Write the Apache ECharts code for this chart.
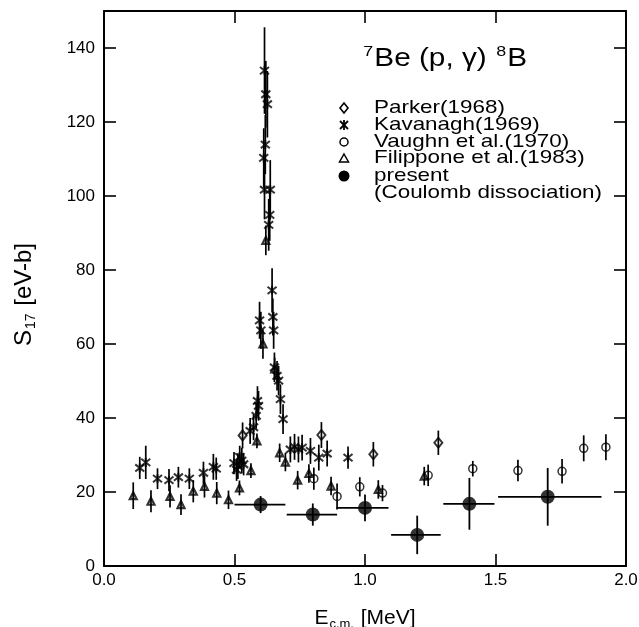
<!DOCTYPE html>
<html><head><meta charset="utf-8">
<script src="https://cdn.jsdelivr.net/npm/echarts@6/dist/echarts.min.js"></script>
<style>html,body{margin:0;padding:0;background:#fff}#c{width:639px;height:627px}</style>
</head><body><div id="c"></div>
<script>
// ---- tick labels ----
const xTicks = [0, 0.5, 1.0, 1.5, 2.0];
const xTickLabels = ['0.0', '0.5', '1.0', '1.5', '2.0'];
const yTicks = [0, 20, 40, 60, 80, 100, 120, 140];
const yTickLabels = ['0', '20', '40', '60', '80', '100', '120', '140'];

// ---- Parker (1968) ----
const parE = [0.531, 0.833, 1.032, 1.281];
const parS = [35.3, 35.4, 30.2, 33.3];
const parErr = [3.5, 3.5, 3.3, 3.3];

// ---- Kavanagh (1969) ----
const kavE = [0.137,0.160,0.205,0.249,0.285,0.327,0.381,0.419,0.430,0.498,0.508,0.513,0.520,0.528,0.535,0.560,0.573,0.583,0.588,0.592,0.596,0.601,0.612,0.615,0.615,0.618,0.620,0.626,0.631,0.635,0.637,0.644,0.647,0.650,0.653,0.663,0.669,0.676,0.686,0.714,0.730,0.745,0.759,0.791,0.823,0.855,0.935];
const kavS = [26.5,28.0,23.6,23.2,24.0,23.6,25.2,26.8,26.3,27.8,26.0,27.0,29.5,28.5,27.5,36.5,37.5,40.6,44.6,43.3,66.4,63.7,110.3,101.7,133.9,113.9,127.5,124.8,92.2,94.9,101.7,74.5,67.3,63.7,53.7,51.4,50.1,45.1,39.7,31.5,32.2,31.5,32.0,31.1,29.3,30.4,29.3];
const kavErr = [3.0,4.5,2.8,3.0,2.8,2.8,3.0,3.5,3.0,3.0,3.0,3.5,3.0,3.5,3.0,3.5,3.5,3.5,4.0,4.0,5.0,5.0,8.0,8.0,11.7,8.0,9.0,9.0,7.0,7.0,8.0,6.0,5.0,5.0,4.0,4.0,4.0,4.0,4.0,3.5,3.5,3.5,3.5,3.5,3.5,3.5,3.0];

// ---- Vaughn et al. (1970) ----
const vauE = [0.804,0.893,0.980,1.067,1.242,1.413,1.586,1.755,1.838,1.923];
const vauS = [23.6,18.8,21.4,19.7,24.5,26.3,25.8,25.6,31.8,32.1];
const vauErr = [3.0,3.5,2.6,2.2,2.9,2.1,2.9,3.3,3.5,3.5];

// ---- Filippone et al. (1983) ----
const filE = [0.112,0.180,0.253,0.295,0.342,0.385,0.432,0.477,0.519,0.563,0.586,0.609,0.620,0.654,0.673,0.695,0.742,0.785,0.870,1.051,1.227];
const filS = [19.0,17.5,18.8,16.6,20.2,21.5,19.7,17.9,21.1,25.8,33.8,60.0,88.0,53.3,30.6,28.1,23.2,25.0,21.6,20.7,24.3];
const filErr = [3.6,3.0,3.0,2.8,3.0,3.0,3.0,2.5,2.0,2.0,2.0,4.0,4.0,3.0,2.5,2.5,2.5,2.5,2.5,2.5,2.5];

// ---- present (Coulomb dissociation) ----
const preE = [0.60, 0.80, 1.00, 1.20, 1.40, 1.70];
const preS = [16.6, 13.9, 15.7, 8.4, 16.8, 18.7];
const preErr = [2.3, 3.0, 3.6, 5.2, 7.0, 7.8];
const preElow = [0.50, 0.70, 0.89, 1.10, 1.30, 1.51];
const preEhigh = [0.695, 0.893, 1.09, 1.29, 1.496, 1.906];

const FONT = 'Liberation Sans, Arial, Helvetica, sans-serif';
const asteriskPath = 'path://M0,-1L0,1M-0.8,-0.8L0.8,0.8M-0.8,0.8L0.8,-0.8';

function fmt(ticks, labels) {
  return function (v) {
    const i = ticks.findIndex(t => Math.abs(t - v) < 1e-9);
    return i >= 0 ? labels[i] : '';
  };
}

function errSeries(name, E, S, Err) {
  return {
    type: 'custom', name: name + ' err', silent: true, z: 2,
    data: E.map((e, i) => [e, S[i], Err[i]]),
    encode: { x: 0, y: 1 },
    renderItem: function (params, api) {
      const x = api.value(0), y = api.value(1), d = api.value(2);
      const p1 = api.coord([x, y - d]), p2 = api.coord([x, y + d]);
      return { type: 'line', shape: { x1: p1[0], y1: p1[1], x2: p2[0], y2: p2[1] },
        style: { stroke: '#000', lineWidth: 1.7 } };
    }
  };
}

const series = [
  errSeries('Parker', parE, parS, parErr),
  errSeries('Kavanagh', kavE, kavS, kavErr),
  errSeries('Vaughn', vauE, vauS, vauErr),
  errSeries('Filippone', filE, filS, filErr),
  {
    type: 'custom', name: 'present err', silent: true, z: 2,
    data: preE.map((e, i) => [e, preS[i], preErr[i], preElow[i], preEhigh[i]]),
    encode: { x: 0, y: 1 },
    renderItem: function (params, api) {
      const x = api.value(0), y = api.value(1), d = api.value(2);
      const lo = api.value(3), hi = api.value(4);
      const a = api.coord([x, y - d]), b = api.coord([x, y + d]);
      const c = api.coord([lo, y]), e = api.coord([hi, y]);
      return { type: 'group', children: [
        { type: 'line', shape: { x1: a[0], y1: a[1], x2: b[0], y2: b[1] }, style: { stroke: '#000', lineWidth: 1.8 } },
        { type: 'line', shape: { x1: c[0], y1: c[1], x2: e[0], y2: e[1] }, style: { stroke: '#000', lineWidth: 1.8 } }
      ] };
    }
  },
  { type: 'scatter', name: 'Parker(1968)', z: 3, symbol: 'diamond', symbolSize: [8, 10],
    itemStyle: { color: 'rgba(0,0,0,0)', borderColor: '#000', borderWidth: 2 },
    data: parE.map((e, i) => [e, parS[i]]) },
  { type: 'scatter', name: 'Kavanagh(1969)', z: 3, symbol: asteriskPath, symbolSize: 9,
    itemStyle: { color: 'rgba(0,0,0,0)', borderColor: '#000', borderWidth: 2 },
    data: kavE.map((e, i) => [e, kavS[i]]) },
  { type: 'scatter', name: 'Vaughn et al.(1970)', z: 3, symbol: 'circle', symbolSize: 8,
    itemStyle: { color: 'rgba(0,0,0,0)', borderColor: '#000', borderWidth: 1.5 },
    data: vauE.map((e, i) => [e, vauS[i]]) },
  { type: 'scatter', name: 'Filippone et al.(1983)', z: 3, symbol: 'triangle', symbolSize: 7,
    itemStyle: { color: 'rgba(0,0,0,0)', borderColor: '#000', borderWidth: 2.2 },
    data: filE.map((e, i) => [e, filS[i]]) },
  { type: 'scatter', name: 'present', z: 4, symbol: 'circle', symbolSize: 14,
    itemStyle: { color: '#000' },
    data: preE.map((e, i) => [e, preS[i]]) }
];

const axisLineStyle = { color: '#000', width: 2 };
const tickStyle = { color: '#000', width: 1.6 };

const option = {
  backgroundColor: '#fff',
  animation: false,
  grid: { left: 104, right: 13, top: 11, bottom: 61, containLabel: false, outerBoundsMode: 'none' },
  xAxis: [
    { type: 'value', min: 0, max: 2, interval: 0.5, position: 'bottom',
      axisLine: { show: true, onZero: false, lineStyle: axisLineStyle },
      axisTick: { show: true, inside: true, length: 12, lineStyle: tickStyle },
      axisLabel: { show: true, color: '#000', fontSize: 17, fontFamily: FONT, margin: 6, formatter: fmt(xTicks, xTickLabels) },
      splitLine: { show: false },
      name: 'E{sub|c.m.} [MeV]', nameLocation: 'middle', nameGap: 40,
      nameTextStyle: { color: '#000', fontSize: 21, fontFamily: FONT,
        rich: { sub: { fontSize: 13, fontFamily: FONT, color: '#000', padding: [12, 1, 0, 1] } } } },
    { type: 'value', min: 0, max: 2, interval: 0.5, position: 'top',
      axisLine: { show: true, onZero: false, lineStyle: axisLineStyle },
      axisTick: { show: true, inside: true, length: 12, lineStyle: tickStyle },
      axisLabel: { show: false }, splitLine: { show: false } }
  ],
  yAxis: [
    { type: 'value', min: 0, max: 150, interval: 20, position: 'left',
      axisLine: { show: true, onZero: false, lineStyle: axisLineStyle },
      axisTick: { show: true, inside: true, length: 12, lineStyle: tickStyle },
      axisLabel: { show: true, color: '#000', fontSize: 17, fontFamily: FONT, margin: 9, formatter: fmt(yTicks, yTickLabels) },
      splitLine: { show: false },
      name: 'S{sub|17} [eV-b]', nameLocation: 'middle', nameGap: 66, nameRotate: 90,
      nameTextStyle: { color: '#000', fontSize: 24, fontFamily: FONT, padding: [0, 12, 0, 0],
        rich: { sub: { fontSize: 14, fontFamily: FONT, color: '#000', padding: [13, 1, 0, 1] } } } },
    { type: 'value', min: 0, max: 150, interval: 20, position: 'right',
      axisLine: { show: true, onZero: false, lineStyle: axisLineStyle },
      axisTick: { show: true, inside: true, length: 12, lineStyle: tickStyle },
      axisLabel: { show: false }, splitLine: { show: false } }
  ],
  series: series,
  graphic: [
    { type: 'text', x: 362, y: 59, scaleX: 1.19, originX: 0, originY: 0,
      style: { x: 0, y: 0, text: '{sup|7}Be (p, γ) {sup|8}B', fontSize: 25, fontFamily: FONT, fill: '#000',
        verticalAlign: 'middle', align: 'left',
        rich: { sup: { fontSize: 15, fontFamily: FONT, fill: '#000', padding: [0, 1, 14, 1] } } } },
    // legend symbols
    { type: 'polygon', shape: { points: [[344, 103], [348, 108], [344, 113], [340, 108]] },
      style: { fill: 'none', stroke: '#000', lineWidth: 1.6 } },
    { type: 'group', children: [
      { type: 'line', shape: { x1: 344, y1: 120, x2: 344, y2: 130 }, style: { stroke: '#000', lineWidth: 1.8 } },
      { type: 'line', shape: { x1: 340, y1: 121, x2: 348, y2: 129 }, style: { stroke: '#000', lineWidth: 1.8 } },
      { type: 'line', shape: { x1: 340, y1: 129, x2: 348, y2: 121 }, style: { stroke: '#000', lineWidth: 1.8 } }
    ] },
    { type: 'circle', shape: { cx: 344, cy: 142, r: 4 }, style: { fill: 'none', stroke: '#000', lineWidth: 1.5 } },
    { type: 'polygon', shape: { points: [[344, 154], [348.5, 162], [339.5, 162]] },
      style: { fill: 'none', stroke: '#000', lineWidth: 1.5 } },
    { type: 'circle', shape: { cx: 344, cy: 176, r: 5.5 }, style: { fill: '#000' } },
    // legend labels
    { type: 'text', x: 374, y: 108, scaleX: 1.18, style: { x: 0, y: 0, text: 'Parker(1968)', fontSize: 19, fontFamily: FONT, fill: '#000', verticalAlign: 'middle' } },
    { type: 'text', x: 374, y: 125, scaleX: 1.18, style: { x: 0, y: 0, text: 'Kavanagh(1969)', fontSize: 19, fontFamily: FONT, fill: '#000', verticalAlign: 'middle' } },
    { type: 'text', x: 374, y: 142, scaleX: 1.18, style: { x: 0, y: 0, text: 'Vaughn et al.(1970)', fontSize: 19, fontFamily: FONT, fill: '#000', verticalAlign: 'middle' } },
    { type: 'text', x: 374, y: 158, scaleX: 1.18, style: { x: 0, y: 0, text: 'Filippone et al.(1983)', fontSize: 19, fontFamily: FONT, fill: '#000', verticalAlign: 'middle' } },
    { type: 'text', x: 374, y: 176, scaleX: 1.18, style: { x: 0, y: 0, text: 'present', fontSize: 19, fontFamily: FONT, fill: '#000', verticalAlign: 'middle' } },
    { type: 'text', x: 374, y: 193, scaleX: 1.18, style: { x: 0, y: 0, text: '(Coulomb dissociation)', fontSize: 19, fontFamily: FONT, fill: '#000', verticalAlign: 'middle' } }
  ]
};

const chart = echarts.init(document.getElementById('c'), null, { renderer: 'canvas' });
chart.setOption(option);
</script>
</body></html>
